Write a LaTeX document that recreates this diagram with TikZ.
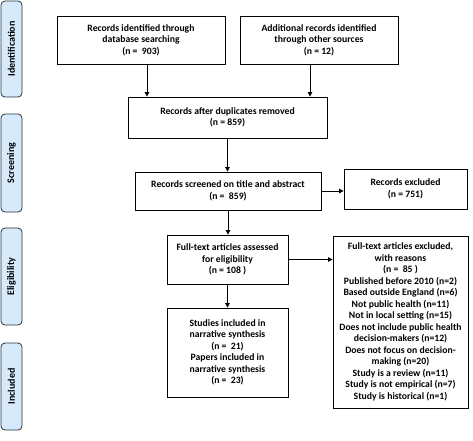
\documentclass[tikz,border=0pt]{standalone}
\usepackage{fontspec}
\setmainfont{Carlito}
\usetikzlibrary{arrows.meta}
\definecolor{sidefill}{RGB}{214,234,251}
\definecolor{sideline}{RGB}{40,50,60}
\tikzset{
  box/.style={draw, line width=0.8pt, align=center, inner sep=1pt,
    font=\fontsize{9.7}{11.5}\selectfont\bfseries},
  side/.style={draw=sideline, fill=sidefill, line width=0.8pt, rounded corners=4pt,
    inner sep=0pt},
  sidetext/.style={rotate=90, font=\fontsize{10}{11}\selectfont\bfseries},
  arr/.style={line width=0.8pt, -{Triangle[length=4.5pt,width=4.5pt]}}
}
\begin{document}
\begin{tikzpicture}[x=1pt,y=-1pt]
\useasboundingbox (0,0) rectangle (473,440);
% side labels
\draw[side] (1,1) rectangle (22,97);
\node[sidetext] (sid) at (11.5,49) {Identification};
\draw[side] (1,114) rectangle (22,212);
\node[sidetext] (sscr) at (11.5,163) {Screening};
\draw[side] (1,228) rectangle (22,325);
\node[sidetext] (selig) at (11.5,276.5) {Eligibility};
\draw[side] (1,343) rectangle (22,430);
\node[sidetext] (sinc) at (11.5,386.5) {Included};
% boxes
\node[box, minimum width=168pt, minimum height=48pt] (b1) at (141,40)
  {Records identified through\\database searching\\(n =\ \ 903)};
\node[box, minimum width=158pt, minimum height=48pt] (b2) at (319,40)
  {Additional records identified\\through other sources\\(n = 12)};
\node[box, minimum width=199pt, minimum height=41pt] (b3) at (227.5,117.5)
  {Records after duplicates removed\\(n = 859)};
\node[box, minimum width=186pt, minimum height=38pt] (b4) at (228,191)
  {Records screened on title and abstract\\(n =\ \ 859)};
\node[box, minimum width=123pt, minimum height=40pt] (b5) at (405.5,189)
  {Records excluded\\(n = 751)};
\node[box, minimum width=121pt, minimum height=49pt] (b6) at (227.5,259.5)
  {Full-text articles assessed\\for eligibility\\(n = 108 )};
\node[box, minimum width=121pt, minimum height=89pt] (b7) at (227.5,352.5)
  {Studies included in\\narrative synthesis\\(n =\ \ 21)\\Papers included in\\narrative synthesis\\(n =\ \ 23)};
\node[box, minimum width=135pt, minimum height=172pt] (b8) at (400.5,322)
  {Full-text articles excluded,\\with reasons\\(n =\ \ 85 )\\Published before 2010 (n=2)\\Based outside England (n=6)\\Not public health (n=11)\\Not in local setting (n=15)\\Does not include public health\\decision-makers (n=12)\\Does not focus on decision-\\making (n=20)\\Study is a review (n=11)\\Study is not empirical (n=7)\\Study is historical (n=1)};
% arrows
\draw[arr] ([xshift=6pt]b1.south) -- ([xshift=6pt]b1.south |- b3.north);
\draw[arr] ([xshift=-9pt]b2.south) -- ([xshift=-9pt]b2.south |- b3.north);
\draw[arr] (b3.south) -- (b3.south |- b4.north);
\draw[arr] (b4.east) -- (b4.east -| b5.west);
\draw[arr] (b4.south) -- (b4.south |- b6.north);
\draw[arr] (b6.east) -- (b6.east -| b8.west);
\draw[arr] (b6.south) -- (b6.south |- b7.north);
\end{tikzpicture}
\end{document}
